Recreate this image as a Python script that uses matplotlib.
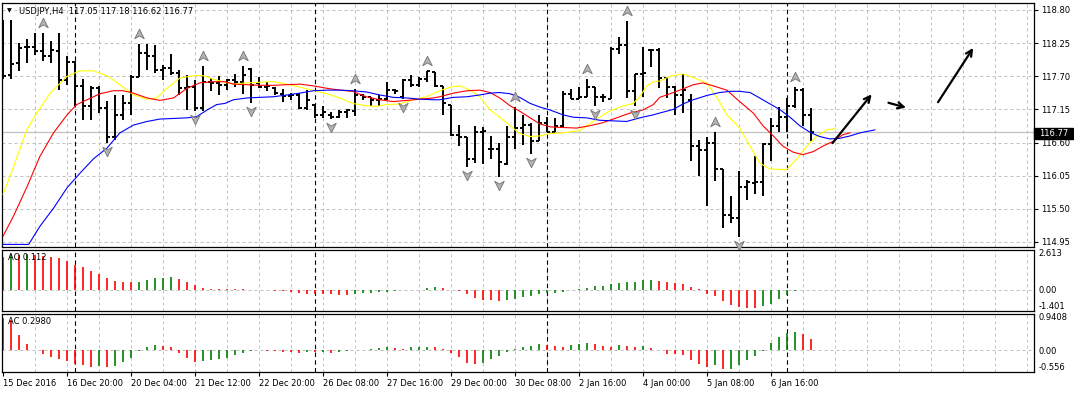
import numpy as np
import matplotlib
matplotlib.use("Agg")
import matplotlib.pyplot as plt
from matplotlib.path import Path
from matplotlib import transforms
from matplotlib.patches import Rectangle

# ---- data (USDJPY, H4) ----
opens = [118.20, 117.72, 117.92, 118.19, 118.19, 118.12, 118.04, 118.12, 117.64, 117.94,
         117.54, 117.20, 117.50, 117.17, 116.70, 117.06, 117.25, 117.68, 118.08, 118.04,
         117.80, 117.83, 117.76, 117.50, 117.53, 117.17, 117.61, 117.58, 117.56, 117.63,
         117.60, 117.82, 117.58, 117.52, 117.50, 117.41, 117.38, 117.39, 117.17, 117.23,
         117.06, 117.05, 117.02, 117.10, 117.12, 117.39, 117.35, 117.31, 117.32, 117.48,
         117.35, 117.64, 117.56, 117.65, 117.77, 117.54, 117.23, 116.73, 116.70, 116.33,
         116.77, 116.49, 116.49, 116.25, 116.69, 116.84, 116.89, 116.62, 116.92, 116.78,
         116.88, 117.41, 117.33, 117.36, 117.52, 117.36, 117.33, 118.16, 118.22, 117.45,
         117.73, 118.14, 118.13, 117.67, 117.52, 117.39, 117.30, 116.54, 116.48, 116.60,
         116.16, 115.39, 115.35, 115.87, 115.93, 115.95, 116.58, 116.87, 117.02, 117.21,
         117.47, 117.05]
highs = [118.64, 118.64, 118.25, 118.32, 118.41, 118.41, 118.29, 118.41, 118.04, 117.96,
         117.66, 117.54, 117.54, 117.29, 117.39, 117.39, 117.72, 118.24, 118.24, 118.22,
         117.89, 118.07, 117.80, 117.72, 117.64, 117.87, 117.67, 117.70, 117.66, 117.74,
         117.87, 117.83, 117.68, 117.61, 117.52, 117.49, 117.42, 117.42, 117.47, 117.24,
         117.21, 117.10, 117.14, 117.15, 117.49, 117.41, 117.36, 117.39, 117.61, 117.49,
         117.65, 117.72, 117.68, 117.79, 117.77, 117.54, 117.23, 116.89, 116.70, 116.88,
         116.86, 116.71, 116.60, 116.87, 117.19, 117.06, 116.93, 117.06, 117.03, 117.00,
         117.46, 117.49, 117.52, 117.65, 117.52, 117.41, 118.18, 118.35, 118.61, 117.74,
         118.18, 118.15, 118.17, 117.68, 117.54, 117.74, 117.41, 116.65, 116.70, 116.77,
         116.16, 115.71, 116.12, 115.98, 116.38, 116.60, 117.00, 117.19, 117.34, 117.52,
         117.50, 117.18]
lows = [117.65, 117.66, 117.78, 117.92, 118.05, 117.96, 117.92, 117.47, 117.56, 117.21,
        116.98, 116.98, 117.09, 116.59, 116.65, 116.98, 117.06, 117.68, 117.81, 117.76,
        117.64, 117.72, 117.39, 117.14, 117.12, 117.12, 117.45, 117.39, 117.48, 117.52,
        117.41, 117.25, 117.50, 117.45, 117.39, 117.28, 117.31, 117.15, 117.14, 117.00,
        117.00, 116.99, 117.00, 117.00, 117.04, 117.31, 117.21, 117.21, 117.31, 117.41,
        117.32, 117.52, 117.52, 117.61, 117.52, 117.06, 116.71, 116.55, 116.20, 116.26,
        116.25, 116.33, 116.03, 116.23, 116.49, 116.56, 116.41, 116.62, 116.77, 116.77,
        116.84, 117.32, 117.32, 117.36, 117.20, 117.28, 117.32, 118.07, 117.34, 117.21,
        117.36, 117.86, 117.50, 117.34, 117.06, 117.09, 116.29, 116.05, 115.55, 115.96,
        115.18, 115.26, 115.04, 115.65, 115.75, 115.72, 116.29, 116.77, 116.77, 117.17,
        116.87, 116.62]
closes = [117.70, 117.90, 118.17, 118.19, 118.12, 118.03, 118.13, 117.64, 117.94, 117.54,
          117.20, 117.50, 117.17, 116.70, 117.06, 117.25, 117.68, 118.08, 118.04, 117.80,
          117.83, 117.76, 117.50, 117.53, 117.17, 117.61, 117.58, 117.56, 117.63, 117.60,
          117.72, 117.55, 117.52, 117.54, 117.43, 117.38, 117.39, 117.17, 117.31, 117.06,
          117.10, 117.02, 117.10, 117.14, 117.39, 117.35, 117.31, 117.32, 117.48, 117.45,
          117.64, 117.56, 117.65, 117.78, 117.54, 117.25, 116.73, 116.70, 116.33, 116.77,
          116.79, 116.49, 116.27, 116.69, 116.84, 116.89, 116.62, 116.92, 116.77, 116.88,
          117.41, 117.33, 117.36, 117.52, 117.36, 117.35, 118.16, 118.22, 117.45, 117.73,
          117.76, 118.13, 117.67, 117.52, 117.39, 117.47, 116.54, 116.48, 116.60, 116.16,
          115.39, 115.35, 115.87, 115.95, 115.95, 116.58, 116.87, 117.02, 117.21, 117.47,
          117.06, 116.77]

# alligator-style lines (bar index, price)
yellow_x = [0, 1.3, 2.96, 4.2, 5.9, 8.0, 9.6, 11.3, 13.0, 14.6, 16.3, 18.0, 19.2, 20.5,
            22.1, 23.8, 25.0, 26.3, 27.75, 28.8, 30.5, 32.1, 33.8, 35.5, 37.1, 38.9, 40.5,
            42.1, 43.7, 45.4, 46.7, 48.0, 49.6, 51.3, 52.9, 54.6, 55.9, 57.1, 58.4, 59.6,
            60.9, 62.1, 63.4, 64.6, 65.9, 67.1, 68.4, 70.0, 72.1, 73.8, 75.5, 77.1, 78.8,
            79.6, 80.5, 81.3, 82.1, 83.4, 85.0, 86.3, 87.96, 89.2, 90.5, 92.1, 93.4, 94.6,
            95.9, 97.96, 99.2, 100.5, 101.7, 102.96, 104.0]
yellow_y = [115.74, 116.20, 116.81, 117.09, 117.42, 117.70, 117.79, 117.79, 117.71, 117.56,
            117.39, 117.32, 117.34, 117.50, 117.67, 117.71, 117.71, 117.65, 117.60, 117.57,
            117.59, 117.60, 117.61, 117.57, 117.52, 117.46, 117.41, 117.34, 117.25, 117.21,
            117.20, 117.23, 117.24, 117.31, 117.36, 117.46, 117.52, 117.54, 117.47, 117.36,
            117.14, 117.02, 116.88, 116.75, 116.70, 116.71, 116.75, 116.76, 116.80, 116.95,
            117.10, 117.19, 117.25, 117.36, 117.54, 117.61, 117.62, 117.70, 117.74, 117.68,
            117.59, 117.36, 117.06, 116.84, 116.54, 116.26, 116.16, 116.15, 116.32, 116.54,
            116.70, 116.81, 116.83]
red_x = [0, 1.3, 3.0, 4.6, 6.3, 8.0, 9.2, 10.5, 12.1, 13.8, 15.0, 16.3, 18.0, 19.6, 21.3,
         23.0, 24.6, 26.3, 27.75, 28.8, 30.5, 32.1, 33.8, 35.5, 37.1, 38.8, 40.5, 42.1, 43.7,
         45.4, 47.1, 48.8, 50.5, 52.1, 53.8, 54.6, 56.3, 58.0, 59.6, 60.9, 62.1, 63.4, 64.6,
         65.9, 67.1, 68.4, 70.0, 71.7, 73.4, 75.0, 76.7, 78.4, 80.0, 81.3, 82.1, 83.4, 85.0,
         86.3, 87.5, 88.8, 90.5, 92.1, 93.8, 95.0, 96.3, 97.5, 98.8, 100.0, 101.3, 102.5,
         103.8, 105.0, 105.9]
red_y = [115.05, 115.38, 115.87, 116.37, 116.76, 117.06, 117.23, 117.31, 117.41, 117.46,
         117.46, 117.42, 117.34, 117.30, 117.34, 117.50, 117.59, 117.61, 117.61, 117.57,
         117.56, 117.55, 117.55, 117.56, 117.57, 117.54, 117.50, 117.47, 117.45, 117.36,
         117.31, 117.28, 117.30, 117.32, 117.34, 117.36, 117.42, 117.46, 117.47, 117.43,
         117.34, 117.21, 117.12, 117.01, 116.91, 116.86, 116.85, 116.84, 116.88, 116.93,
         117.01, 117.09, 117.14, 117.23, 117.35, 117.41, 117.49, 117.56, 117.59, 117.54,
         117.47, 117.28, 117.09, 116.88, 116.71, 116.54, 116.44, 116.40, 116.45, 116.54,
         116.62, 116.73, 116.76]
blue_x = [0, 3.2, 4.6, 6.3, 8.0, 9.6, 11.3, 13.0, 14.6, 16.3, 18.0, 19.6, 21.3, 23.0, 24.2,
          25.5, 26.7, 27.75, 28.8, 30.5, 32.1, 33.8, 35.5, 37.1, 38.8, 40.5, 42.1, 43.7, 45.4,
          47.1, 48.8, 50.5, 52.1, 53.8, 54.6, 56.3, 58.0, 59.6, 60.9, 62.1, 63.4, 64.6, 65.9,
          67.1, 68.4, 70.0, 71.3, 72.96, 74.6, 76.3, 77.96, 79.6, 81.3, 82.1, 83.8, 85.0, 86.3,
          87.96, 89.6, 90.9, 92.1, 93.4, 94.6, 95.9, 97.1, 98.4, 99.6, 100.9, 102.1, 103.4,
          104.6, 105.9, 107.1, 109.0]
blue_y = [114.91, 114.91, 115.21, 115.51, 115.85, 116.09, 116.33, 116.51, 116.76, 116.89,
          116.95, 116.99, 117.00, 117.01, 117.03, 117.14, 117.23, 117.25, 117.31, 117.34,
          117.35, 117.36, 117.39, 117.42, 117.46, 117.47, 117.47, 117.46, 117.44, 117.39,
          117.35, 117.34, 117.32, 117.31, 117.31, 117.35, 117.36, 117.39, 117.42, 117.43,
          117.41, 117.35, 117.25, 117.19, 117.14, 117.06, 117.02, 117.01, 116.97, 116.96,
          116.95, 117.01, 117.06, 117.09, 117.15, 117.24, 117.31, 117.38, 117.43, 117.45,
          117.45, 117.43, 117.34, 117.24, 117.15, 117.02, 116.88, 116.77, 116.70, 116.66,
          116.67, 116.71, 116.76, 116.81]

ao = [2.15, 2.30, 2.25, 2.35, 2.28, 2.20, 2.15, 2.05, 1.85, 1.62,
      1.45, 1.20, 1.00, 0.78, 0.58, 0.50, 0.48, 0.50, 0.60, 0.75,
      0.77, 0.82, 0.68, 0.48, 0.30, 0.13, 0.04, 0.02, 0.015, 0.01,
      0.005, 0.0, -0.02, -0.05, -0.07, -0.10, -0.18, -0.20, -0.26, -0.27,
      -0.30, -0.32, -0.33, -0.34, -0.32, -0.25, -0.22, -0.18, -0.13, -0.09,
      -0.06, -0.03, -0.01, 0.08, 0.15, 0.07, -0.01, -0.09, -0.31, -0.53,
      -0.66, -0.71, -0.72, -0.70, -0.62, -0.50, -0.44, -0.31, -0.22, -0.21,
      -0.15, -0.03, 0.01, 0.07, 0.20, 0.22, 0.33, 0.40, 0.47, 0.50,
      0.61, 0.62, 0.53, 0.46, 0.40, 0.36, 0.16, 0.04, -0.31, -0.44,
      -0.78, -1.04, -1.11, -1.18, -1.22, -1.09, -0.93, -0.62, -0.38, -0.11,
      -0.03, -0.02]
ac = [0.82, 0.77, 0.39, 0.17, 0.01, -0.09, -0.16, -0.22, -0.26, -0.35,
      -0.37, -0.42, -0.40, -0.43, -0.39, -0.30, -0.18, -0.02, 0.08, 0.14,
      0.11, 0.08, -0.06, -0.19, -0.30, -0.26, -0.25, -0.21, -0.18, -0.11,
      -0.06, -0.02, 0.005, -0.01, -0.02, -0.03, -0.04, -0.06, -0.03, -0.05,
      -0.04, -0.06, -0.03, -0.02, 0.005, 0.02, 0.04, 0.06, 0.08, 0.06,
      0.04, 0.08, 0.08, 0.09, 0.08, 0.03, -0.06, -0.16, -0.31, -0.35,
      -0.33, -0.21, -0.14, -0.04, 0.04, 0.09, 0.11, 0.16, 0.15, 0.11,
      0.08, 0.13, 0.16, 0.18, 0.17, 0.11, 0.08, 0.13, 0.12, 0.08,
      0.11, 0.06, 0.01, -0.08, -0.09, -0.12, -0.24, -0.34, -0.42, -0.38,
      -0.47, -0.46, -0.38, -0.24, -0.14, -0.01, 0.18, 0.33, 0.45, 0.46,
      0.41, 0.30]

up_fractals = [5, 17, 25, 30, 44, 53, 64, 73, 78, 89, 99]
down_fractals = [13, 24, 31, 41, 50, 58, 62, 66, 74, 79, 92]

# hand-drawn arrows on the chart: (bar, price) tail -> head
arrow_tails = [(103.7, 116.59), (110.7, 117.26), (116.9, 117.27)]
arrow_heads = [(108.6, 117.40), (112.9, 117.18), (121.3, 118.17)]

label_bars = [0, 8, 16, 24, 32, 40, 48, 56, 64, 72, 80, 88, 96]
time_labels = ['15 Dec 2016', '16 Dec 20:00', '20 Dec 04:00', '21 Dec 12:00',
               '22 Dec 20:00', '26 Dec 08:00', '27 Dec 16:00', '29 Dec 00:00',
               '30 Dec 08:00', '2 Jan 16:00', '4 Jan 00:00', '5 Jan 08:00', '6 Jan 16:00']
week_starts = [9, 39, 68, 98]
price_ticks = [118.80, 118.25, 117.70, 117.15, 116.60, 116.05, 115.50, 114.95]
last_price = 116.77
ao_ticks = [2.613, 0.0, -1.401]
ac_ticks = [0.9408, 0.0, -0.556]
ao_last = 0.112
ac_last = 0.2980

# ---- layout (pixels of a 1074x393 canvas) ----
W, H = 1074, 393
FS = 6
GRID = '#c0c0c0'
plt.rcParams['font.family'] = 'DejaVu Sans'


def fx(px):
    return px / W


def fy(py):
    return 1 - py / H


fig = plt.figure(figsize=(W / 100, H / 100), dpi=100)
left, right = 1.5, 1034
ax = fig.add_axes([fx(left), fy(247), fx(right) - fx(left), fy(2.5) - fy(247)])
ax_ao = fig.add_axes([fx(left), fy(311), fx(right) - fx(left), fy(249.5) - fy(311)])
ax_ac = fig.add_axes([fx(left), fy(372.3), fx(right) - fx(left), fy(313.5) - fy(372.3)])

idx = np.arange(len(closes))

for a in (ax, ax_ao, ax_ac):
    a.set_xlim(-0.2, 128.9)
    for s in a.spines.values():
        s.set_linewidth(0.9)
        s.set_color('black')
    for k in range(4, 129, 4):
        a.axvline(k, color=GRID, lw=0.72, dashes=(3, 3), zorder=0)
    for w in week_starts:
        a.axvline(w, color='black', lw=0.8, dashes=(4, 3), zorder=1)
    a.yaxis.tick_right()
    a.tick_params(axis='y', labelsize=FS, colors='black')

# main price panel
ax.set_ylim(114.867, 118.924)
for p in price_ticks:
    ax.axhline(p, color=GRID, lw=0.72, dashes=(3, 3), zorder=0)
ax.axhline(last_price, color=GRID, lw=0.9, zorder=0.5)

ax.vlines(idx, lows, highs, color='black', lw=1.4, zorder=2)
ax.hlines(opens, idx - 0.4, idx, color='black', lw=1.4, zorder=2)
ax.hlines(closes, idx, idx + 0.4, color='black', lw=1.4, zorder=2)

ax.plot(yellow_x, yellow_y, color='#ffff00', lw=0.8, zorder=3)
ax.plot(red_x, red_y, color='#ff0000', lw=0.8, zorder=3)
ax.plot(blue_x, blue_y, color='#0000ff', lw=0.8, zorder=3)

# fractal arrows
up_mark = Path([(0, 0.55), (0.5, -0.45), (0, -0.15), (-0.5, -0.45), (0, 0.55)],
               [Path.MOVETO, Path.LINETO, Path.LINETO, Path.LINETO, Path.CLOSEPOLY])
down_mark = Path([(0, -0.55), (0.5, 0.45), (0, 0.15), (-0.5, 0.45), (0, -0.55)],
                 [Path.MOVETO, Path.LINETO, Path.LINETO, Path.LINETO, Path.CLOSEPOLY])
up_tr = transforms.offset_copy(ax.transData, fig=fig, y=10, units='dots')
dn_tr = transforms.offset_copy(ax.transData, fig=fig, y=-8, units='dots')
ax.plot(up_fractals, [highs[i] for i in up_fractals], ls='none', marker=up_mark, ms=7.5,
        mfc='#b4b4b4', mec='#7c7c7c', mew=0.7, transform=up_tr, zorder=4, clip_on=False)
ax.plot(down_fractals, [lows[i] for i in down_fractals], ls='none', marker=down_mark, ms=7.5,
        mfc='#b4b4b4', mec='#7c7c7c', mew=0.7, transform=dn_tr, zorder=4, clip_on=False)

for (x0, y0), (x1, y1) in zip(arrow_tails, arrow_heads):
    ax.annotate('', xy=(x1, y1), xytext=(x0, y0),
                arrowprops=dict(arrowstyle='->', color='black', lw=1.6,
                                mutation_scale=11, shrinkA=0, shrinkB=0), zorder=5)

ax.set_xticks([])
ax.set_yticks(price_ticks)
ax.set_yticklabels([f'{p:.2f}' for p in price_ticks])
ax.tick_params(axis='y', length=3, width=0.8, pad=2)


# oscillator panels
def osc_colors(vals):
    cols = []
    for i, v in enumerate(vals):
        if i == 0 or v >= vals[i - 1]:
            cols.append('#008000')
        else:
            cols.append('#ff0000')
    return cols


for a, vals, ticks, fmt in ((ax_ao, ao, ao_ticks, ['2.613', '0.00', '-1.401']),
                            (ax_ac, ac, ac_ticks, ['0.9408', '0.00', '-0.556'])):
    a.set_ylim(ticks[2], ticks[0])
    a.axhline(0, color=GRID, lw=0.72, dashes=(3, 3), zorder=0)
    a.vlines(idx, 0, vals, colors=osc_colors(vals), lw=1.2, zorder=2)
    a.set_yticks(ticks)
    a.set_yticklabels(fmt)
    a.tick_params(axis='y', length=0, pad=3)
    labs = a.get_yticklabels()
    labs[0].set_va('top')
    labs[-1].set_va('bottom')

ax_ao.set_xticks([])
ax_ac.set_xticks(label_bars)
ax_ac.set_xticklabels(time_labels, ha='left')
ax_ac.tick_params(axis='x', length=3, width=0.8, pad=1.5, labelsize=FS)

# texts
fig.text(fx(7), fy(11), '\u25bc', fontsize=4.5, va='center', ha='left')
fig.text(fx(19), fy(11), 'USDJPY,H4  %.2f %.2f %.2f %.2f' % (opens[-1], highs[-1], lows[-1], closes[-1]),
         fontsize=FS, va='center', ha='left')
fig.text(fx(8), fy(257), 'AO %.3f' % ao_last, fontsize=FS, va='center', ha='left')
fig.text(fx(8), fy(322), 'AC %.4f' % ac_last, fontsize=FS, va='center', ha='left')

# last price tag
fig.patches.append(Rectangle((fx(1034), fy(138.5)), fx(1073) - fx(1034), fy(127.5) - fy(138.5),
                             transform=fig.transFigure, color='black', zorder=5))
fig.text(fx(1053.5), fy(133), f'{last_price:.2f}', color='white', fontsize=FS,
         ha='center', va='center', zorder=6)

fig.savefig('out.png', dpi=100, facecolor='white')
